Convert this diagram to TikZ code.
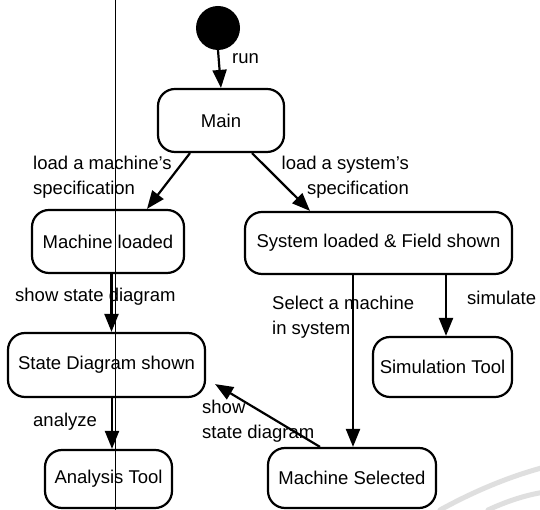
\documentclass[tikz,border=0pt]{standalone}
\usepackage{fontspec}
\setmainfont{Liberation Sans}
\usetikzlibrary{arrows.meta,calc}

\tikzset{
  state/.style={draw, line width=2.2pt, rounded corners=17pt, inner sep=0pt,
                font=\fontsize{18.5}{22}\selectfont},
  trans/.style={line width=2.2pt, -{Triangle[length=18pt,width=14pt]}},
  lbl/.style={font=\fontsize{18.5}{25}\selectfont, inner sep=0pt},
  faintarc/.style={line width=5pt, gray!25, line cap=round}
}

\begin{document}
\begin{tikzpicture}[x=1pt,y=1pt]
  \useasboundingbox (0,0) rectangle (540,510);
  \fill[white] (0,0) rectangle (540,510);

  % faint arcs in the lower right corner
  \draw[faintarc] (440,0) .. controls (480,22) and (515,35) .. (545,43);
  \draw[faintarc] (488,0) .. controls (505,8) and (525,15) .. (545,18);

  % thin vertical rule
  \draw[line width=1pt] (115.5,0) -- (115.5,510);

  % initial state
  \node[circle, fill=black, minimum size=44pt, inner sep=0pt] (init) at (218,482) {};

  % states
  \node[state, minimum width=126pt, minimum height=63pt] (main)  at (221,389.5) {Main};
  \node[state, minimum width=152pt, minimum height=63pt] (mload) at (108,268.5) {Machine loaded};
  \node[state, minimum width=267pt, minimum height=62pt] (sload) at (378.5,267) {System loaded \& Field shown};
  \node[state, minimum width=197pt, minimum height=64pt] (sdiag) at (106.5,145) {State Diagram shown};
  \node[state, minimum width=139pt, minimum height=60pt] (simt)  at (442.5,143) {Simulation Tool};
  \node[state, minimum width=127pt, minimum height=58pt] (atool) at (108.5,31) {Analysis Tool};
  \node[state, minimum width=168pt, minimum height=60pt] (msel)  at (352,32) {Machine Selected};

  % entry points used by the vertical transitions
  \coordinate (simtop) at ($(simt.north)+(3.5,0)$);
  \coordinate (seltop) at ($(msel.north)+(1,0)$);
  \coordinate (loadbot) at ($(mload.south)+(3.5,0)$);
  \coordinate (diagbot) at ($(sdiag.south)+(5.5,0)$);

  % transitions
  \draw[trans] (init.south) -- (main.north);
  \draw[trans] ($(main.south)+(-31,0)$) -- ($(mload.north)+(39,0)$);
  \draw[trans] ($(main.south)+(31,0)$) -- ($(sload.north)+(-68.5,0)$);
  \draw[trans] (loadbot) -- (loadbot |- sdiag.north);
  \draw[trans] (diagbot) -- (diagbot |- atool.north);
  \draw[trans] (simtop |- sload.south) -- (simtop);
  \draw[trans] (seltop |- sload.south) -- (seltop);
  \draw[trans] ($(msel.north)+(-32,0)$) -- ($(sdiag.south east)+(9,14)$);

  % transition labels
  \node[lbl, anchor=west] (lrun) at (232,451) {run};
  \node[lbl, anchor=north west, align=left] (lmach) at (33,354)
    {load a machine's\\specification};
  \node[lbl, anchor=north east, align=right] (lsys) at (409,354)
    {load a system's\\specification};
  \node[lbl, anchor=west] (lshow) at (15,213) {show state diagram};
  \node[lbl, anchor=north west, align=left] (lsel) at (272,214)
    {Select a machine\\in system};
  \node[lbl, anchor=west] (lsim) at (467,212) {simulate};
  \node[lbl, anchor=west] (lana) at (33,88) {analyze};
  \node[lbl, anchor=north west, align=left] (lshow2) at (202,110)
    {show\\state diagram};
\end{tikzpicture}
\end{document}
